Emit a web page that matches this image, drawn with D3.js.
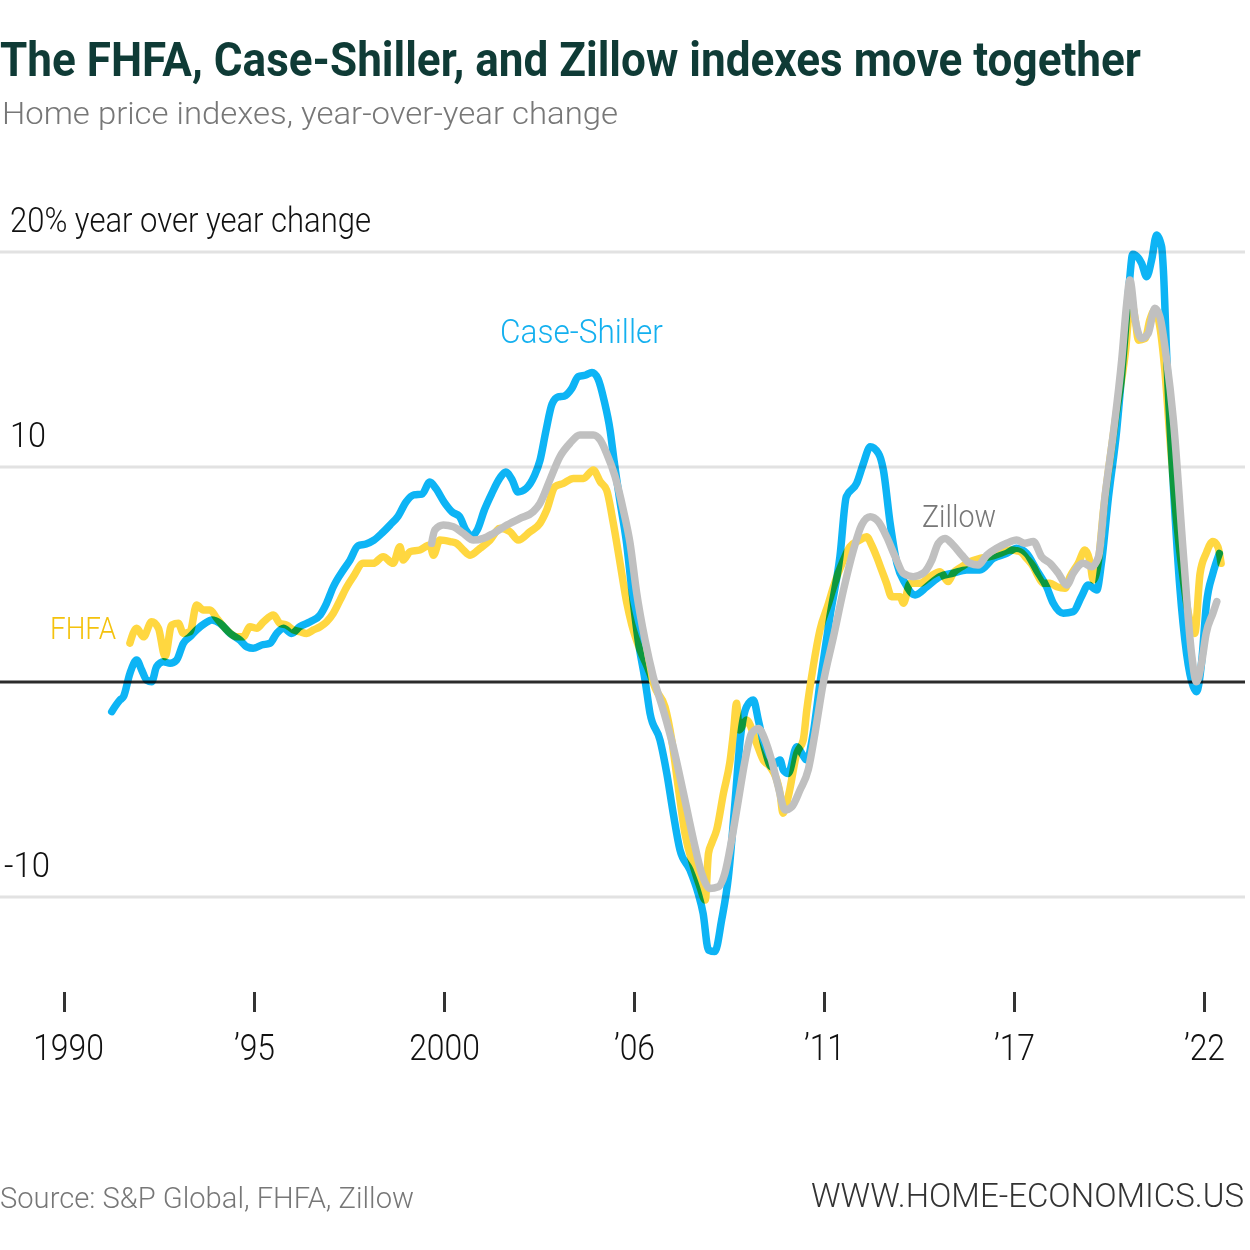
<!DOCTYPE html>
<html>
<head>
<meta charset="utf-8">
<script src="https://cdn.jsdelivr.net/npm/d3@7"></script>
<style>
  body { margin: 0; background: #fff; }
  text { font-family: Roboto, "Noto Sans", sans-serif; }
</style>
</head>
<body>
<svg id="chart" width="1250" height="1250"></svg>
<script>
// year-over-year % change
const csYear = [1991.34,1991.57,1991.67,1991.85,1992.04,1992.18,1992.32,1992.46,1992.6,1992.79,1992.98,1993.16,1993.35,1993.54,1993.72,1993.96,1994.15,1994.38,1994.66,1994.94,1995.13,1995.31,1995.55,1995.78,1995.97,1996.16,1996.39,1996.62,1996.91,1997.19,1997.37,1997.56,1997.84,1998.03,1998.25,1998.48,1998.7,1998.93,1999.15,1999.38,1999.6,1999.82,2000.05,2000.27,2000.44,2000.67,2000.9,2001.1,2001.28,2001.45,2001.6,2001.8,2002.0,2002.24,2002.4,2002.58,2002.74,2002.97,2003.2,2003.36,2003.53,2003.7,2003.87,2004.04,2004.26,2004.43,2004.65,2004.82,2004.99,2005.16,2005.33,2005.44,2005.6,2005.78,2005.94,2006.12,2006.31,2006.45,2006.73,2006.92,2007.1,2007.29,2007.57,2007.8,2007.94,2008.09,2008.27,2008.46,2008.65,2008.84,2008.98,2009.16,2009.35,2009.49,2009.68,2009.86,2010.1,2010.19,2010.33,2010.57,2010.71,2010.85,2011.03,2011.22,2011.5,2011.78,2011.96,2012.25,2012.44,2012.63,2012.86,2013.0,2013.19,2013.38,2013.61,2013.89,2014.22,2014.59,2014.96,2015.34,2015.71,2016.09,2016.46,2016.74,2017.02,2017.3,2017.58,2017.77,2018.05,2018.33,2018.56,2018.75,2018.99,2019.12,2019.32,2019.55,2019.74,2019.9,2020.0,2020.25,2020.39,2020.53,2020.67,2020.81,2020.86,2020.95,2021.14,2021.32,2021.51,2021.7,2021.79,2021.93,2022.07,2022.25,2022.43];
const csValue = [-1.38,-0.84,-0.68,0.4,1.02,0.56,0.09,0.01,0.71,0.94,0.87,1.02,1.8,2.11,2.42,2.73,2.88,2.73,2.26,1.95,1.64,1.57,1.72,1.8,2.26,2.5,2.26,2.57,2.8,3.12,3.66,4.43,5.21,5.67,6.33,6.42,6.6,6.93,7.3,7.72,8.37,8.7,8.74,9.3,9.0,8.37,7.9,7.7,7.07,6.8,7.07,8.0,8.74,9.5,9.77,9.4,8.84,9.0,9.58,10.3,11.7,12.93,13.26,13.3,13.67,14.2,14.28,14.4,14.1,13.1,11.7,10.3,8.47,6.6,4.28,1.9,0.09,-1.46,-2.7,-4.25,-6.1,-7.81,-8.74,-9.83,-10.76,-12.47,-12.54,-11.07,-9.06,-5.49,-2.7,-1.15,-0.84,-1.77,-3.16,-3.94,-3.63,-4.09,-4.25,-3.01,-3.32,-3.63,-2.39,-0.06,3.04,5.83,8.62,9.24,10.17,10.94,10.64,9.86,7.38,5.52,4.59,4.05,4.43,4.9,5.06,5.21,5.21,5.75,5.98,6.22,5.98,5.21,4.43,3.66,3.2,3.27,3.97,4.51,4.28,5.52,8.62,11.72,15.3,18.5,19.9,19.47,18.85,19.63,20.79,20.25,19.16,15.29,9.08,4.43,1.33,-0.22,-0.45,0.87,3.66,5.05,5.98];

const fhfaYear = [1991.85,1992.04,1992.23,1992.46,1992.65,1992.84,1993.02,1993.21,1993.35,1993.54,1993.72,1993.91,1994.1,1994.29,1994.57,1994.85,1995.03,1995.22,1995.41,1995.6,1995.88,1996.06,1996.25,1996.44,1996.62,1996.81,1997.0,1997.19,1997.37,1997.56,1997.75,1997.94,1998.12,1998.4,1998.68,1998.96,1999.24,1999.43,1999.52,1999.71,1999.99,2000.27,2000.37,2000.55,2000.84,2001.02,2001.21,2001.4,2001.68,2001.96,2002.24,2002.52,2002.75,2003.08,2003.36,2003.55,2003.78,2004.02,2004.3,2004.58,2004.86,2005.05,2005.23,2005.42,2005.61,2005.8,2005.94,2006.17,2006.39,2006.62,2006.87,2007.06,2007.24,2007.43,2007.67,2007.85,2008.0,2008.09,2008.18,2008.32,2008.51,2008.7,2008.79,2008.88,2008.95,2009.16,2009.44,2009.63,2009.82,2010.1,2010.18,2010.33,2010.57,2010.75,2010.85,2011.03,2011.22,2011.46,2011.6,2011.88,2012.06,2012.34,2012.53,2012.67,2012.81,2012.95,2013.09,2013.23,2013.47,2013.56,2013.75,2014.03,2014.31,2014.59,2014.82,2014.96,2015.2,2015.43,2015.71,2015.99,2016.27,2016.55,2016.84,2017.02,2017.21,2017.35,2017.49,2017.68,2017.87,2018.1,2018.24,2018.47,2018.66,2018.8,2018.89,2019.04,2019.18,2019.32,2019.51,2019.79,2019.95,2020.07,2020.16,2020.35,2020.48,2020.62,2020.76,2020.9,2021.04,2021.23,2021.42,2021.6,2021.74,2021.89,2022.06,2022.25,2022.39,2022.48];
const fhfaValue = [1.81,2.5,2.1,2.8,2.5,1.18,2.65,2.73,2.26,2.34,3.58,3.35,3.35,2.96,2.42,2.1,2.1,2.57,2.5,2.8,3.12,2.73,2.65,2.42,2.34,2.26,2.42,2.57,2.8,3.2,3.81,4.43,4.9,5.52,5.52,5.83,5.52,6.29,5.67,6.06,6.14,6.37,5.9,6.6,6.53,6.45,6.14,5.9,6.22,6.6,7.15,6.99,6.6,6.99,7.38,8.0,9.08,9.24,9.47,9.47,9.86,9.32,8.93,7.38,5.52,3.66,2.65,1.49,0.65,-0.37,-1.15,-2.7,-4.87,-7.04,-8.59,-9.52,-10.14,-7.97,-7.5,-6.88,-5.18,-3.63,-2.39,-0.99,-2.23,-1.77,-2.85,-3.63,-3.94,-5.18,-6.1,-5.33,-3.32,-2.7,-1.3,0.71,2.42,3.66,4.43,5.67,6.29,6.6,6.76,6.37,5.83,5.21,4.59,3.97,3.97,3.66,4.59,4.59,4.9,5.13,4.67,5.06,5.36,5.6,5.75,5.83,5.98,6.14,6.06,5.75,5.36,4.9,4.59,4.59,4.43,4.36,4.9,5.52,6.14,5.6,4.74,5.67,8.0,9.86,12.19,15.29,17.77,16.84,15.9,15.98,16.84,17.3,16.53,14.5,11.41,7.53,4.74,2.88,2.26,5.05,5.98,6.53,6.29,5.52];

const zillowYear = [2000.32,2000.41,2000.65,2000.93,2001.21,2001.49,2001.77,2002.05,2002.43,2002.8,2003.17,2003.36,2003.64,2003.92,2004.2,2004.48,2004.86,2005.05,2005.23,2005.47,2005.7,2005.89,2006.07,2006.31,2006.54,2006.82,2007.1,2007.39,2007.67,2007.9,2008.13,2008.37,2008.55,2008.74,2008.93,2009.12,2009.3,2009.49,2009.68,2009.86,2010.05,2010.24,2010.43,2010.66,2010.89,2011.08,2011.31,2011.6,2011.88,2012.16,2012.39,2012.63,2012.86,2013.09,2013.33,2013.56,2013.84,2014.12,2014.36,2014.54,2014.73,2014.96,2015.2,2015.43,2015.66,2015.9,2016.18,2016.46,2016.74,2016.97,2017.21,2017.44,2017.68,2017.91,2018.15,2018.33,2018.61,2018.85,2019.04,2019.22,2019.45,2019.69,2019.83,2019.92,2020.07,2020.25,2020.43,2020.62,2020.76,2020.95,2021.14,2021.42,2021.65,2021.79,2021.93,2022.06,2022.25,2022.36];
const zillowValue = [6.45,7.07,7.3,7.22,6.91,6.6,6.68,6.91,7.3,7.61,7.92,8.31,9.4,10.48,11.1,11.49,11.49,11.26,10.64,9.55,8.0,6.45,4.2,1.95,0.25,-1.3,-3.01,-5.18,-7.35,-8.9,-9.6,-9.52,-8.9,-7.35,-5.49,-3.63,-2.39,-2.16,-2.7,-3.63,-4.87,-5.95,-5.8,-5.02,-4.09,-2.39,-0.06,2.11,4.28,6.14,7.3,7.69,7.46,6.76,5.83,5.05,4.9,5.06,5.67,6.45,6.68,6.37,5.9,5.52,5.44,5.9,6.22,6.45,6.6,6.45,6.53,5.83,5.52,5.06,4.51,5.06,5.52,5.36,5.83,8.62,11.5,14.98,17.61,18.7,16.84,15.98,16.2,17.38,17.0,15.0,12.19,5.98,1.33,0.01,0.87,2.26,3.2,3.74];

const yTicks = [-10, 0, 10, 20];
const yTickLabels = ["-10", "", "10", "20% year over year change"];
const xTickYears = [1990, 1995.333, 2000.667, 2006, 2011.333, 2016.667, 2022];
const xTickLabels = ["1990", "\u201995", "2000", "\u201906", "\u201911", "\u201917", "\u201922"];

const svg = d3.select("#chart");
const W = 1250;

const x = d3.scaleLinear().domain([1990, 2022]).range([64, 1204]);
const y = d3.scaleLinear().domain([-10, 20]).range([897, 252]);

svg.append("rect").attr("width", W).attr("height", 1250).attr("fill", "#fff");

function fit(sel, w) {
  sel.attr("textLength", w).attr("lengthAdjust", "spacingAndGlyphs");
}

// title block
svg.append("text").attr("x", 0).attr("y", 76)
  .attr("font-size", 48).attr("font-weight", 700).attr("fill", "#0f3b36")
  .text("The FHFA, Case-Shiller, and Zillow indexes move together")
  .call(fit, 1141);
svg.append("text").attr("x", 2).attr("y", 124)
  .attr("font-size", 32).attr("font-weight", 300).attr("fill", "#777")
  .text("Home price indexes, year-over-year change")
  .call(fit, 616);

// gridlines
const grid = svg.append("g");
grid.selectAll("line").data(yTicks).join("line")
  .attr("x1", 0).attr("x2", 1245)
  .attr("y1", d => y(d)).attr("y2", d => y(d))
  .attr("stroke", d => d === 0 ? "#2b2b2b" : "#e2e2e2")
  .attr("stroke-width", 3);

const yLab = svg.append("g").selectAll("text").data(yTicks.filter(d => d !== 0)).join("text")
  .attr("x", d => d < 0 ? 4 : 10)
  .attr("y", d => y(d) - 20)
  .attr("font-size", 35).attr("font-weight", 300).attr("fill", "#111")
  .text(d => yTickLabels[yTicks.indexOf(d)]);
yLab.filter(d => d === 20).call(fit, 361);
yLab.filter(d => d === 10).call(fit, 36);
yLab.filter(d => d === -10).call(fit, 46);

// x axis
const xAxis = d3.axisBottom(x)
  .tickValues(xTickYears)
  .tickFormat((d, i) => xTickLabels[i])
  .tickSize(20);
const ax = svg.append("g").attr("transform", "translate(0,992)").call(xAxis);
ax.select(".domain").remove();
ax.selectAll(".tick line").attr("stroke", "#333").attr("stroke-width", 3);
ax.selectAll(".tick text")
  .attr("y", 68).attr("dy", 0)
  .attr("font-size", 37).attr("font-weight", 300).attr("fill", "#111")
  .attr("font-family", "Roboto, sans-serif")
  .each(function() {
    const w = this.getComputedTextLength();
    d3.select(this).attr("textLength", w * 0.86).attr("lengthAdjust", "spacingAndGlyphs");
  });
ax.selectAll(".tick text").filter((d, i) => i === 0).attr("x", 4);

// lines
const line = d3.line()
  .x(d => x(d[0]))
  .y(d => y(d[1]))
  .curve(d3.curveMonotoneX);

const zip = (a, b) => a.map((v, i) => [v, b[i]]);

const lines = svg.append("g");
lines.append("path")
  .datum(zip(fhfaYear, fhfaValue))
  .attr("d", line)
  .attr("fill", "none").attr("stroke", "#ffd740").attr("stroke-width", 7.5)
  .attr("stroke-linecap", "round").attr("stroke-linejoin", "round");
lines.append("path")
  .datum(zip(csYear, csValue))
  .attr("d", line)
  .attr("fill", "none").attr("stroke", "#0db4f5").attr("stroke-width", 7.5)
  .attr("stroke-linecap", "round").attr("stroke-linejoin", "round")
  .style("mix-blend-mode", "multiply");
lines.append("path")
  .datum(zip(zillowYear, zillowValue))
  .attr("d", line)
  .attr("fill", "none").attr("stroke", "#c0c0c0").attr("stroke-width", 7.5)
  .attr("stroke-linecap", "round").attr("stroke-linejoin", "round");

// series labels
svg.append("text").attr("x", 500).attr("y", 343)
  .attr("font-size", 34).attr("font-weight", 300).attr("fill", "#14b0ef")
  .text("Case-Shiller").call(fit, 163);
svg.append("text").attr("x", 922).attr("y", 527)
  .attr("font-size", 31).attr("font-weight", 300).attr("fill", "#777")
  .text("Zillow").call(fit, 74);
svg.append("text").attr("x", 50).attr("y", 639)
  .attr("font-size", 31).attr("font-weight", 300).attr("fill", "#f4c20d")
  .text("FHFA").call(fit, 66);

// footer
svg.append("text").attr("x", 0).attr("y", 1208)
  .attr("font-size", 29).attr("font-weight", 300).attr("fill", "#777")
  .text("Source: S&P Global, FHFA, Zillow").call(fit, 414);
svg.append("text").attr("x", 1244).attr("y", 1207)
  .attr("text-anchor", "end")
  .attr("font-size", 33).attr("font-weight", 300).attr("fill", "#333")
  .text("WWW.HOME-ECONOMICS.US");
</script>
</body>
</html>
